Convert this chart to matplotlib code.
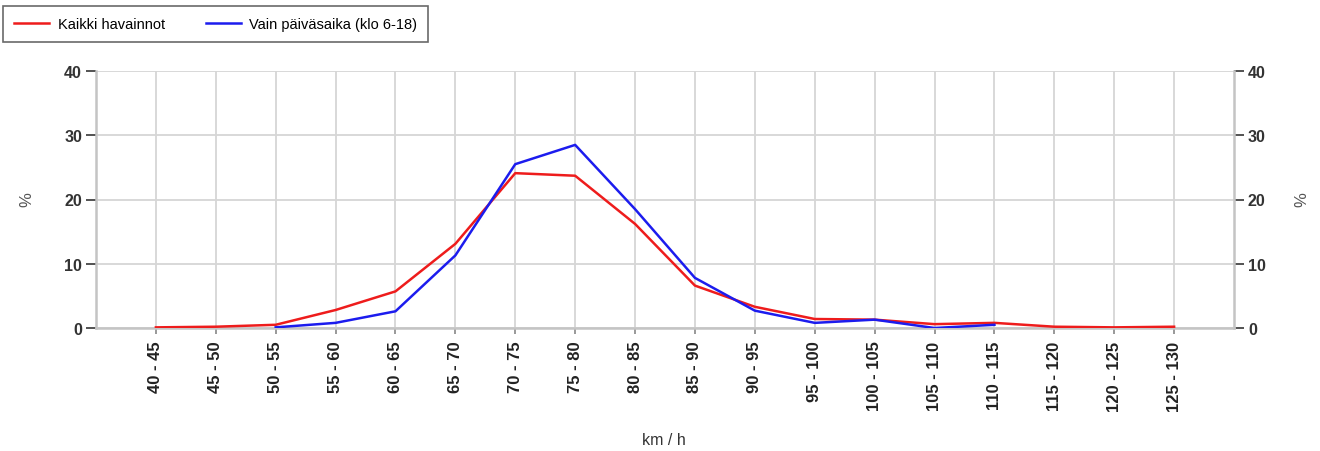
import matplotlib.pyplot as plt
from matplotlib.lines import Line2D

plt.rcParams['font.family'] = ['Liberation Sans', 'DejaVu Sans']

# nopeusluokat
classes = ['40 - 45', '45 - 50', '50 - 55', '55 - 60', '60 - 65', '65 - 70',
           '70 - 75', '75 - 80', '80 - 85', '85 - 90', '90 - 95', '95 - 100',
           '100 - 105', '105 - 110', '110 - 115', '115 - 120', '120 - 125', '125 - 130']

# kaikki havainnot (%)
all_obs = [0.1, 0.2, 0.5, 2.8, 5.7, 13.1, 24.1, 23.7, 16.2, 6.6, 3.3, 1.4,
           1.3, 0.6, 0.8, 0.2, 0.1, 0.2]

# vain päiväsaika, alkaa luokasta 50 - 55 ja loppuu luokkaan 110 - 115
day_start = 2
day_obs = [0.1, 0.8, 2.6, 11.3, 25.5, 28.5, 18.5, 7.8, 2.7, 0.8, 1.3, 0.0, 0.5]

label_all = 'Kaikki havainnot'
label_day = 'Vain päiväsaika (klo 6-18)'

red = '#ee1c1c'
blue = '#1c1cee'

fig = plt.figure(figsize=(13.2, 4.52), dpi=100)
ax = fig.add_axes([96 / 1320, 1 - 329 / 452, (1234 - 96) / 1320, (329 - 72) / 452])

x_all = list(range(len(classes)))
x_day = list(range(day_start, day_start + len(day_obs)))

ax.plot(x_all, all_obs, color=red, lw=1.8, zorder=3)
ax.plot(x_day, day_obs, color=blue, lw=1.8, zorder=4)

ax.set_xlim(-1, len(classes))
ax.set_ylim(0, 40)
ax.set_yticks([0, 10, 20, 30, 40])
ax.set_xticks(x_all)
ax.set_xticklabels(classes, rotation=90, fontsize=12, fontweight='bold', color='#222222')

ax.grid(True, color='#d6d6d6', lw=1.3, zorder=0)
ax.spines['top'].set_visible(False)
for s in ['left', 'right', 'bottom']:
    ax.spines[s].set_color('#c4c4c4')
    ax.spines[s].set_linewidth(1.8)

# y-akselin arvot molemmille puolille
ax.tick_params(axis='y', length=7, width=1.3, color='#444444', pad=3,
               right=True, labelright=True)
ax.tick_params(axis='x', length=4, width=1.2, color='#888888', pad=5)
for t in ax.yaxis.get_major_ticks():
    for lbl in (t.label1, t.label2):
        lbl.set_fontsize(11.5)
        lbl.set_fontweight('bold')
        lbl.set_color('#333333')

fig.text(27 / 1320, 1 - 200 / 452, '%', rotation=90, ha='center', va='center',
         fontsize=12, color='#555555')
fig.text(1302 / 1320, 1 - 200 / 452, '%', rotation=90, ha='center', va='center',
         fontsize=12, color='#555555')
fig.text(664 / 1320, 1 - 441 / 452, 'km / h', ha='center', va='center',
         fontsize=11.5, color='#333333')

handles = [Line2D([], [], color=red, lw=1.8), Line2D([], [], color=blue, lw=1.8)]
leg = fig.legend(handles, [label_all, label_day], loc='upper left',
                 bbox_to_anchor=(3 / 1320, 1 - 7 / 452), borderaxespad=0, ncol=2,
                 fontsize=10.5, frameon=True, fancybox=False, handlelength=2.4,
                 columnspacing=2.8, borderpad=0.75, handletextpad=0.6)
leg.get_frame().set_edgecolor('#444444')
leg.get_frame().set_linewidth(1.2)

fig.savefig('out.png', dpi=100)
